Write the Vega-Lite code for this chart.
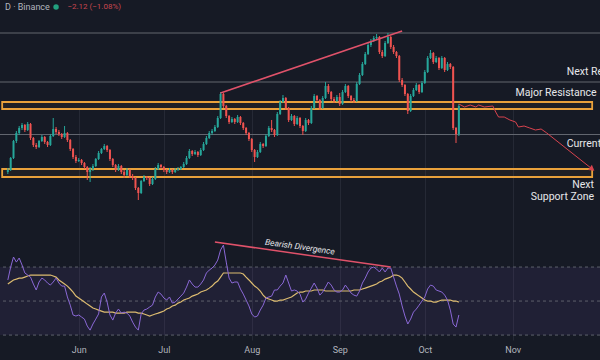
{
"$schema": "https://vega.github.io/schema/vega-lite/v6.json",
"width": 600, "height": 340, "autosize": "none", "padding": {"left": 0, "top": 0, "right": 0, "bottom": 20},
"background": "#161a25",
"config": {"view": {"stroke": null}, "text": {"font": "Roboto"},
  "axisX": {"ticks": false, "domain": false, "grid": true, "gridColor": "#252935", "gridWidth": 1, "labelColor": "#b2b5be", "labelFontSize": 9, "labelFont": "Roboto", "labelPadding": 5}},
"datasets": {
"candles": [
{"d":"2024-05-07","o":128,"h":132,"l":126,"c":130,"r":62.4,"m":60.0},
{"d":"2024-05-08","o":130,"h":143,"l":129,"c":142,"r":70.0,"m":61.2},
{"d":"2024-05-09","o":142,"h":160,"l":141,"c":159,"r":75.9,"m":62.4},
{"d":"2024-05-10","o":159,"h":169,"l":157,"c":167,"r":72.9,"m":62.9},
{"d":"2024-05-11","o":167,"h":174,"l":165,"c":172,"r":75.3,"m":63.5},
{"d":"2024-05-12","o":172,"h":177,"l":170,"c":175,"r":71.2,"m":63.5},
{"d":"2024-05-13","o":175,"h":176,"l":168,"c":170,"r":66.5,"m":64.1},
{"d":"2024-05-14","o":170,"h":178,"l":169,"c":176,"r":65.3,"m":64.7},
{"d":"2024-05-15","o":176,"h":177,"l":160,"c":162,"r":64.1,"m":65.3},
{"d":"2024-05-16","o":162,"h":163,"l":153,"c":155,"r":60.0,"m":65.3},
{"d":"2024-05-17","o":155,"h":157,"l":151,"c":153,"r":56.5,"m":65.3},
{"d":"2024-05-18","o":153,"h":160,"l":152,"c":159,"r":61.2,"m":65.3},
{"d":"2024-05-19","o":159,"h":165,"l":158,"c":163,"r":63.5,"m":65.3},
{"d":"2024-05-20","o":163,"h":164,"l":156,"c":158,"r":62.4,"m":65.3},
{"d":"2024-05-21","o":158,"h":159,"l":153,"c":155,"r":60.6,"m":65.3},
{"d":"2024-05-22","o":155,"h":166,"l":154,"c":164,"r":59.4,"m":65.3},
{"d":"2024-05-23","o":164,"h":182,"l":163,"c":171,"r":61.2,"m":64.7},
{"d":"2024-05-24","o":171,"h":173,"l":166,"c":168,"r":63.5,"m":64.1},
{"d":"2024-05-25","o":168,"h":170,"l":164,"c":166,"r":60.6,"m":62.4},
{"d":"2024-05-26","o":166,"h":167,"l":161,"c":163,"r":58.8,"m":61.2},
{"d":"2024-05-27","o":163,"h":174,"l":162,"c":167,"r":58.8,"m":60.0},
{"d":"2024-05-28","o":167,"h":168,"l":158,"c":160,"r":52.4,"m":58.8},
{"d":"2024-05-29","o":160,"h":161,"l":149,"c":151,"r":47.6,"m":57.1},
{"d":"2024-05-30","o":151,"h":152,"l":141,"c":143,"r":41.8,"m":55.3},
{"d":"2024-05-31","o":143,"h":145,"l":137,"c":139,"r":41.2,"m":52.9},
{"d":"2024-06-01","o":139,"h":142,"l":138,"c":140,"r":41.8,"m":51.8},
{"d":"2024-06-02","o":140,"h":141,"l":135,"c":137,"r":40.6,"m":50.6},
{"d":"2024-06-03","o":137,"h":138,"l":131,"c":133,"r":39.4,"m":49.4},
{"d":"2024-06-04","o":133,"h":134,"l":120,"c":128,"r":35.3,"m":48.2},
{"d":"2024-06-05","o":128,"h":133,"l":118,"c":131,"r":32.9,"m":47.1},
{"d":"2024-06-06","o":131,"h":136,"l":129,"c":134,"r":36.5,"m":45.9},
{"d":"2024-06-07","o":134,"h":142,"l":133,"c":141,"r":39.4,"m":45.3},
{"d":"2024-06-08","o":141,"h":149,"l":140,"c":147,"r":42.4,"m":44.7},
{"d":"2024-06-09","o":147,"h":152,"l":146,"c":151,"r":52.4,"m":44.1},
{"d":"2024-06-10","o":151,"h":156,"l":150,"c":154,"r":54.7,"m":43.5},
{"d":"2024-06-11","o":154,"h":155,"l":148,"c":150,"r":49.4,"m":43.5},
{"d":"2024-06-12","o":150,"h":151,"l":139,"c":141,"r":41.8,"m":43.5},
{"d":"2024-06-13","o":141,"h":142,"l":133,"c":135,"r":38.8,"m":43.5},
{"d":"2024-06-14","o":135,"h":136,"l":128,"c":130,"r":42.9,"m":42.9},
{"d":"2024-06-15","o":130,"h":136,"l":129,"c":134,"r":45.3,"m":42.9},
{"d":"2024-06-16","o":134,"h":135,"l":126,"c":128,"r":42.9,"m":42.9},
{"d":"2024-06-17","o":128,"h":130,"l":122,"c":125,"r":43.5,"m":42.9},
{"d":"2024-06-18","o":125,"h":132,"l":124,"c":130,"r":42.9,"m":43.5},
{"d":"2024-06-19","o":130,"h":131,"l":122,"c":124,"r":41.2,"m":43.5},
{"d":"2024-06-20","o":124,"h":126,"l":120,"c":122,"r":37.6,"m":43.5},
{"d":"2024-06-21","o":122,"h":123,"l":110,"c":112,"r":34.7,"m":43.5},
{"d":"2024-06-22","o":112,"h":113,"l":100,"c":107,"r":32.9,"m":42.9},
{"d":"2024-06-23","o":107,"h":120,"l":106,"c":119,"r":42.4,"m":42.9},
{"d":"2024-06-24","o":119,"h":125,"l":118,"c":123,"r":44.7,"m":42.4},
{"d":"2024-06-25","o":123,"h":124,"l":120,"c":122,"r":45.3,"m":41.8},
{"d":"2024-06-26","o":122,"h":123,"l":114,"c":116,"r":46.5,"m":41.2},
{"d":"2024-06-27","o":116,"h":123,"l":115,"c":121,"r":47.6,"m":41.8},
{"d":"2024-06-28","o":121,"h":133,"l":120,"c":131,"r":52.4,"m":42.4},
{"d":"2024-06-29","o":131,"h":137,"l":130,"c":135,"r":55.3,"m":42.9},
{"d":"2024-06-30","o":135,"h":136,"l":131,"c":133,"r":54.1,"m":43.5},
{"d":"2024-07-01","o":133,"h":134,"l":128,"c":130,"r":51.8,"m":44.1},
{"d":"2024-07-02","o":130,"h":131,"l":126,"c":128,"r":50.6,"m":45.3},
{"d":"2024-07-03","o":128,"h":132,"l":127,"c":130,"r":52.4,"m":45.9},
{"d":"2024-07-04","o":130,"h":131,"l":126,"c":128,"r":48.8,"m":47.1},
{"d":"2024-07-05","o":128,"h":132,"l":127,"c":130,"r":49.4,"m":47.6},
{"d":"2024-07-06","o":130,"h":133,"l":129,"c":131,"r":51.2,"m":48.8},
{"d":"2024-07-07","o":131,"h":134,"l":130,"c":133,"r":52.9,"m":49.4},
{"d":"2024-07-08","o":133,"h":138,"l":132,"c":136,"r":54.7,"m":50.6},
{"d":"2024-07-09","o":136,"h":144,"l":135,"c":142,"r":58.2,"m":51.2},
{"d":"2024-07-10","o":142,"h":151,"l":141,"c":149,"r":62.4,"m":51.8},
{"d":"2024-07-11","o":149,"h":150,"l":144,"c":146,"r":60.0,"m":52.9},
{"d":"2024-07-12","o":146,"h":150,"l":145,"c":148,"r":58.2,"m":53.5},
{"d":"2024-07-13","o":148,"h":149,"l":143,"c":145,"r":58.2,"m":54.1},
{"d":"2024-07-14","o":145,"h":152,"l":144,"c":150,"r":60.0,"m":55.3},
{"d":"2024-07-15","o":150,"h":158,"l":149,"c":156,"r":62.4,"m":55.9},
{"d":"2024-07-16","o":156,"h":164,"l":155,"c":162,"r":66.5,"m":56.5},
{"d":"2024-07-17","o":162,"h":169,"l":161,"c":167,"r":68.2,"m":57.6},
{"d":"2024-07-18","o":167,"h":171,"l":165,"c":169,"r":69.4,"m":58.8},
{"d":"2024-07-19","o":169,"h":175,"l":168,"c":173,"r":71.2,"m":60.6},
{"d":"2024-07-20","o":173,"h":184,"l":172,"c":182,"r":74.1,"m":61.8},
{"d":"2024-07-21","o":182,"h":208,"l":181,"c":206,"r":80.0,"m":64.1},
{"d":"2024-07-22","o":206,"h":207,"l":192,"c":194,"r":82.9,"m":66.5},
{"d":"2024-07-23","o":194,"h":195,"l":182,"c":184,"r":72.9,"m":66.5},
{"d":"2024-07-24","o":184,"h":185,"l":176,"c":178,"r":63.5,"m":66.5},
{"d":"2024-07-25","o":178,"h":183,"l":177,"c":181,"r":60.6,"m":66.5},
{"d":"2024-07-26","o":181,"h":182,"l":176,"c":178,"r":61.2,"m":66.5},
{"d":"2024-07-27","o":178,"h":185,"l":177,"c":183,"r":61.2,"m":66.5},
{"d":"2024-07-28","o":183,"h":184,"l":175,"c":177,"r":57.1,"m":66.5},
{"d":"2024-07-29","o":177,"h":178,"l":170,"c":172,"r":54.1,"m":65.9},
{"d":"2024-07-30","o":172,"h":173,"l":165,"c":167,"r":50.6,"m":64.1},
{"d":"2024-07-31","o":167,"h":168,"l":159,"c":161,"r":47.1,"m":62.4},
{"d":"2024-08-01","o":161,"h":162,"l":148,"c":150,"r":42.4,"m":60.6},
{"d":"2024-08-02","o":150,"h":151,"l":138,"c":143,"r":40.6,"m":58.8},
{"d":"2024-08-03","o":143,"h":150,"l":142,"c":148,"r":41.2,"m":57.6},
{"d":"2024-08-04","o":148,"h":158,"l":147,"c":156,"r":44.7,"m":55.9},
{"d":"2024-08-05","o":156,"h":157,"l":152,"c":154,"r":47.6,"m":53.5},
{"d":"2024-08-06","o":154,"h":166,"l":153,"c":164,"r":51.8,"m":51.8},
{"d":"2024-08-07","o":164,"h":174,"l":163,"c":172,"r":52.4,"m":51.2},
{"d":"2024-08-08","o":172,"h":180,"l":168,"c":170,"r":52.9,"m":50.6},
{"d":"2024-08-09","o":170,"h":171,"l":163,"c":165,"r":56.5,"m":50.0},
{"d":"2024-08-10","o":165,"h":188,"l":164,"c":186,"r":56.5,"m":50.0},
{"d":"2024-08-11","o":186,"h":200,"l":185,"c":198,"r":58.8,"m":50.6},
{"d":"2024-08-12","o":198,"h":205,"l":197,"c":202,"r":60.6,"m":50.6},
{"d":"2024-08-13","o":202,"h":203,"l":190,"c":192,"r":65.3,"m":51.2},
{"d":"2024-08-14","o":192,"h":193,"l":178,"c":180,"r":60.6,"m":51.8},
{"d":"2024-08-15","o":180,"h":186,"l":179,"c":184,"r":55.9,"m":52.4},
{"d":"2024-08-16","o":184,"h":185,"l":174,"c":176,"r":56.5,"m":53.5},
{"d":"2024-08-17","o":176,"h":184,"l":175,"c":182,"r":55.9,"m":54.7},
{"d":"2024-08-18","o":182,"h":183,"l":172,"c":174,"r":54.1,"m":55.3},
{"d":"2024-08-19","o":174,"h":175,"l":165,"c":169,"r":49.4,"m":55.3},
{"d":"2024-08-20","o":169,"h":182,"l":168,"c":180,"r":51.2,"m":55.9},
{"d":"2024-08-21","o":180,"h":181,"l":175,"c":177,"r":54.7,"m":55.9},
{"d":"2024-08-22","o":177,"h":194,"l":176,"c":192,"r":57.6,"m":55.9},
{"d":"2024-08-23","o":192,"h":206,"l":191,"c":204,"r":60.6,"m":56.5},
{"d":"2024-08-24","o":204,"h":205,"l":198,"c":200,"r":57.6,"m":56.5},
{"d":"2024-08-25","o":200,"h":201,"l":190,"c":192,"r":53.5,"m":56.5},
{"d":"2024-08-26","o":192,"h":204,"l":191,"c":202,"r":55.3,"m":56.5},
{"d":"2024-08-27","o":202,"h":218,"l":201,"c":214,"r":58.2,"m":55.9},
{"d":"2024-08-28","o":214,"h":216,"l":206,"c":208,"r":61.2,"m":55.9},
{"d":"2024-08-29","o":208,"h":209,"l":199,"c":201,"r":59.4,"m":55.9},
{"d":"2024-08-30","o":201,"h":203,"l":197,"c":199,"r":56.5,"m":55.9},
{"d":"2024-08-31","o":199,"h":205,"l":198,"c":203,"r":55.3,"m":55.9},
{"d":"2024-09-01","o":203,"h":207,"l":194,"c":196,"r":55.3,"m":55.9},
{"d":"2024-09-02","o":196,"h":210,"l":195,"c":208,"r":56.5,"m":55.9},
{"d":"2024-09-03","o":208,"h":216,"l":207,"c":214,"r":59.4,"m":55.9},
{"d":"2024-09-04","o":214,"h":215,"l":202,"c":204,"r":57.1,"m":55.9},
{"d":"2024-09-05","o":204,"h":205,"l":198,"c":200,"r":54.7,"m":55.9},
{"d":"2024-09-06","o":200,"h":202,"l":197,"c":199,"r":53.5,"m":56.5},
{"d":"2024-09-07","o":199,"h":218,"l":198,"c":216,"r":52.9,"m":56.5},
{"d":"2024-09-08","o":216,"h":227,"l":215,"c":225,"r":55.9,"m":56.5},
{"d":"2024-09-09","o":225,"h":238,"l":224,"c":236,"r":60.6,"m":57.1},
{"d":"2024-09-10","o":236,"h":248,"l":235,"c":246,"r":63.5,"m":57.6},
{"d":"2024-09-11","o":246,"h":257,"l":245,"c":255,"r":67.1,"m":58.2},
{"d":"2024-09-12","o":255,"h":261,"l":253,"c":259,"r":69.4,"m":58.8},
{"d":"2024-09-13","o":259,"h":264,"l":258,"c":262,"r":70.0,"m":59.4},
{"d":"2024-09-14","o":262,"h":266,"l":260,"c":263,"r":68.8,"m":60.0},
{"d":"2024-09-15","o":263,"h":264,"l":246,"c":248,"r":67.1,"m":61.2},
{"d":"2024-09-16","o":248,"h":250,"l":242,"c":244,"r":69.4,"m":61.8},
{"d":"2024-09-17","o":244,"h":259,"l":243,"c":257,"r":67.1,"m":62.9},
{"d":"2024-09-18","o":257,"h":267,"l":256,"c":263,"r":69.4,"m":63.5},
{"d":"2024-09-19","o":263,"h":264,"l":251,"c":253,"r":69.4,"m":64.1},
{"d":"2024-09-20","o":253,"h":255,"l":246,"c":248,"r":64.1,"m":65.3},
{"d":"2024-09-21","o":248,"h":249,"l":242,"c":244,"r":58.8,"m":65.3},
{"d":"2024-09-22","o":244,"h":245,"l":218,"c":220,"r":54.1,"m":64.7},
{"d":"2024-09-23","o":220,"h":222,"l":213,"c":215,"r":47.1,"m":63.5},
{"d":"2024-09-24","o":215,"h":216,"l":204,"c":206,"r":41.2,"m":61.2},
{"d":"2024-09-25","o":206,"h":207,"l":186,"c":189,"r":36.5,"m":58.8},
{"d":"2024-09-26","o":189,"h":206,"l":188,"c":204,"r":39.4,"m":57.1},
{"d":"2024-09-27","o":204,"h":212,"l":203,"c":210,"r":43.5,"m":55.3},
{"d":"2024-09-28","o":210,"h":217,"l":209,"c":215,"r":45.3,"m":54.1},
{"d":"2024-09-29","o":215,"h":216,"l":206,"c":208,"r":47.6,"m":52.9},
{"d":"2024-09-30","o":208,"h":219,"l":207,"c":217,"r":50.0,"m":51.8},
{"d":"2024-10-01","o":217,"h":230,"l":216,"c":228,"r":52.4,"m":50.6},
{"d":"2024-10-02","o":228,"h":244,"l":227,"c":242,"r":57.1,"m":50.0},
{"d":"2024-10-03","o":242,"h":250,"l":241,"c":247,"r":59.4,"m":50.0},
{"d":"2024-10-04","o":247,"h":248,"l":236,"c":238,"r":58.8,"m":49.4},
{"d":"2024-10-05","o":238,"h":244,"l":237,"c":242,"r":56.5,"m":49.4},
{"d":"2024-10-06","o":242,"h":243,"l":230,"c":232,"r":55.9,"m":50.0},
{"d":"2024-10-07","o":232,"h":244,"l":231,"c":242,"r":55.3,"m":50.6},
{"d":"2024-10-08","o":242,"h":243,"l":228,"c":230,"r":53.5,"m":50.6},
{"d":"2024-10-09","o":230,"h":238,"l":229,"c":236,"r":50.6,"m":50.6},
{"d":"2024-10-10","o":236,"h":237,"l":231,"c":233,"r":44.7,"m":50.6},
{"d":"2024-10-11","o":233,"h":234,"l":170,"c":172,"r":36.5,"m":50.0},
{"d":"2024-10-12","o":172,"h":173,"l":157,"c":166,"r":34.7,"m":50.0},
{"d":"2024-10-13","o":166,"h":196,"l":164,"c":194,"r":41.8,"m":49.4}
],
"levels": [{"p":267},{"p":218},{"p":165.5}],
"zones": [{"a":"2024-05-05","b":"2024-11-29","lo":191,"hi":198},{"a":"2024-05-05","b":"2024-11-29","lo":123,"hi":131}],
"trend": [{"d":"2024-07-21","p":207},{"d":"2024-09-23","p":269}],
"proj": [
{"d":"2024-10-13","p":196},{"d":"2024-10-15","p":193},{"d":"2024-10-17","p":195},{"d":"2024-10-19","p":193},
{"d":"2024-10-20","p":195},{"d":"2024-10-22","p":193},{"d":"2024-10-25","p":194},{"d":"2024-10-26","p":188},
{"d":"2024-10-27","p":183},{"d":"2024-10-29","p":183},{"d":"2024-10-31","p":180},{"d":"2024-11-02","p":178},
{"d":"2024-11-03","p":173},{"d":"2024-11-05","p":174},{"d":"2024-11-07","p":172},{"d":"2024-11-09","p":170},
{"d":"2024-11-11","p":171},{"d":"2024-11-13","p":167},{"d":"2024-11-29","p":131}
],
"arrow": [{"d":"2024-11-29","p":131}],
"lblL": [{"d":"2024-11-20","p":228,"t":"Next Resistance"},{"d":"2024-11-02","p":207,"t":"Major Resistance"},{"d":"2024-11-20","p":156,"t":"Current Price"}],
"lblR": [{"d":"2024-11-30","p":115.5,"t":"Next"},{"d":"2024-11-30","p":103.5,"t":"Support Zone"}],
"hdr": [{"d":"2024-05-06","p":293,"t":"D · Binance"}],
"hdrDot": [{"d":"2024-05-24","p":293}],
"hdrChg": [{"d":"2024-05-28","p":293,"t":"−2.12 (−1.08%)"}],
"band": [{"a":"2024-05-01","b":"2024-12-05","lo":30,"hi":70}],
"bandLines": [{"v":70},{"v":50},{"v":30}],
"div": [{"d":"2024-07-19","r":84.7},{"d":"2024-09-19","r":70}],
"divTxt": [{"d":"2024-08-18","r":82,"t":"Bearish Divergence"}]
},
"resolve": {"scale": {"y": "independent"}},
"layer": [
{"layer": [
{"data": {"name": "zones"},
 "mark": {"type": "rect", "fill": "#f0a030", "fillOpacity": 0.05, "stroke": "#e9a13b", "strokeWidth": 1.8},
 "encoding": {
  "x": {"field": "a", "type": "temporal", "title": null,
        "scale": {"domain": [{"year": 2024, "month": 5, "date": 6}, {"year": 2024, "month": 11, "date": 30}]},
        "axis": {"title": null, "format": "%b", "labelOverlap": false,
                 "values": [{"year":2024,"month":6,"date":1},{"year":2024,"month":7,"date":1},{"year":2024,"month":8,"date":1},{"year":2024,"month":9,"date":1},{"year":2024,"month":10,"date":1},{"year":2024,"month":11,"date":1}]}},
  "x2": {"field": "b"},
  "y": {"field": "lo", "type": "quantitative", "scale": {"domain": [68, 300], "range": [232, 0], "zero": false, "nice": false}, "axis": null},
  "y2": {"field": "hi"}
 }},
{"data": {"name": "levels"},
 "mark": {"type": "rule", "color": "#62666f", "strokeWidth": 1},
 "encoding": {"y": {"field": "p", "type": "quantitative", "axis": null}}},
{"data": {"name": "candles"},
 "mark": {"type": "rule", "strokeWidth": 1},
 "encoding": {
  "x": {"field": "d", "type": "temporal", "title": null},
  "y": {"field": "l", "type": "quantitative", "axis": null},
  "y2": {"field": "h"},
  "color": {"condition": {"test": "datum.c >= datum.o", "value": "#26a69a"}, "value": "#ef5350"}
 }},
{"data": {"name": "candles"},
 "mark": {"type": "bar", "size": 2},
 "encoding": {
  "x": {"field": "d", "type": "temporal", "title": null},
  "y": {"field": "o", "type": "quantitative", "axis": null},
  "y2": {"field": "c"},
  "color": {"condition": {"test": "datum.c >= datum.o", "value": "#26a69a"}, "value": "#ef5350"}
 }},
{"data": {"name": "trend"},
 "mark": {"type": "line", "color": "#e0526a", "strokeWidth": 1.5},
 "encoding": {"x": {"field": "d", "type": "temporal", "title": null}, "y": {"field": "p", "type": "quantitative", "axis": null}}},
{"data": {"name": "proj"},
 "mark": {"type": "line", "color": "#d8434e", "strokeWidth": 1},
 "encoding": {"x": {"field": "d", "type": "temporal", "title": null}, "y": {"field": "p", "type": "quantitative", "axis": null}}},
{"data": {"name": "arrow"},
 "mark": {"type": "point", "shape": "triangle-right", "filled": true, "color": "#d8434e", "size": 40, "angle": 37, "opacity": 1},
 "encoding": {"x": {"field": "d", "type": "temporal", "title": null}, "y": {"field": "p", "type": "quantitative", "axis": null}}},
{"data": {"name": "lblL"},
 "mark": {"type": "text", "align": "left", "baseline": "middle", "fontSize": 10.5, "color": "#e6e7ea"},
 "encoding": {"x": {"field": "d", "type": "temporal", "title": null}, "y": {"field": "p", "type": "quantitative", "axis": null}, "text": {"field": "t"}}},
{"data": {"name": "lblR"},
 "mark": {"type": "text", "align": "right", "baseline": "middle", "fontSize": 10.5, "color": "#e6e7ea", "dx": -1},
 "encoding": {"x": {"field": "d", "type": "temporal", "title": null}, "y": {"field": "p", "type": "quantitative", "axis": null}, "text": {"field": "t"}}},
{"data": {"name": "hdr"},
 "mark": {"type": "text", "align": "left", "baseline": "middle", "fontSize": 9, "color": "#b2b5be"},
 "encoding": {"x": {"field": "d", "type": "temporal", "title": null}, "y": {"field": "p", "type": "quantitative", "axis": null}, "text": {"field": "t"}}},
{"data": {"name": "hdrDot"},
 "mark": {"type": "point", "shape": "circle", "filled": true, "color": "#22a07f", "size": 30, "opacity": 1},
 "encoding": {"x": {"field": "d", "type": "temporal", "title": null}, "y": {"field": "p", "type": "quantitative", "axis": null}}},
{"data": {"name": "hdrChg"},
 "mark": {"type": "text", "align": "left", "baseline": "middle", "fontSize": 8, "color": "#c8474f"},
 "encoding": {"x": {"field": "d", "type": "temporal", "title": null}, "y": {"field": "p", "type": "quantitative", "axis": null}, "text": {"field": "t"}}}
]},
{"layer": [
{"data": {"name": "band"},
 "mark": {"type": "rect", "color": "#7e57c2", "opacity": 0.1},
 "encoding": {
  "x": {"field": "a", "type": "temporal", "title": null}, "x2": {"field": "b"},
  "y": {"field": "lo", "type": "quantitative", "scale": {"domain": [27.1, 90.6], "range": [340, 232], "zero": false, "nice": false}, "axis": null},
  "y2": {"field": "hi"}
 }},
{"data": {"name": "bandLines"},
 "mark": {"type": "rule", "color": "#5d606b", "strokeWidth": 1, "strokeDash": [3, 3]},
 "encoding": {"y": {"field": "v", "type": "quantitative", "axis": null}}},
{"data": {"name": "candles"},
 "mark": {"type": "line", "color": "#dcbb70", "strokeWidth": 1.2},
 "encoding": {"x": {"field": "d", "type": "temporal", "title": null}, "y": {"field": "m", "type": "quantitative", "axis": null}}},
{"data": {"name": "candles"},
 "mark": {"type": "line", "color": "#8a68d6", "strokeWidth": 1},
 "encoding": {"x": {"field": "d", "type": "temporal", "title": null}, "y": {"field": "r", "type": "quantitative", "axis": null}}},
{"data": {"name": "div"},
 "mark": {"type": "line", "color": "#e0526a", "strokeWidth": 1.5},
 "encoding": {"x": {"field": "d", "type": "temporal", "title": null}, "y": {"field": "r", "type": "quantitative", "axis": null}}},
{"data": {"name": "divTxt"},
 "mark": {"type": "text", "align": "center", "baseline": "middle", "fontSize": 8.5, "fontStyle": "italic", "angle": 8, "color": "#e6e7ea"},
 "encoding": {"x": {"field": "d", "type": "temporal", "title": null}, "y": {"field": "r", "type": "quantitative", "axis": null}, "text": {"field": "t"}}}
]}
]
}
